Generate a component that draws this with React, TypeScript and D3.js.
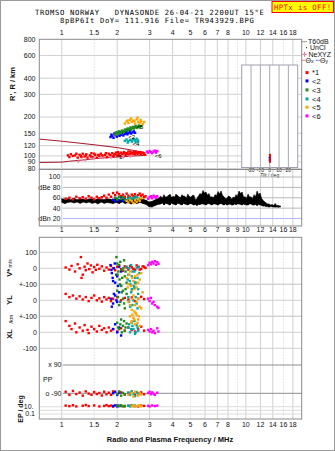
import React from "react";
import * as d3 from "d3";

// ---------- ticks ----------
const FREQ_TICKS = [1, 1.5, 2, 3, 4, 5, 6, 7, 8, 10, 12, 14, 16, 18];
const MID_TICKS = [1, 1.5, 2, 3, 4, 5, 6, 7, 8, 9, 10, 12, 14, 16, 18];
const GRID_FREQS = [1, 1.5, 2, 3, 4, 5, 6, 7, 8, 9, 10, 12, 14, 16, 18];
const FAINT_FREQS = [1.5, 5, 9, 16];
const HEIGHT_TICKS = [800, 600, 400, 300, 200, 150, 120, 100, 90, 80];
const DB_TICKS = [100, 80, 60, 40, 20];
const DB_LABELS = ["100", "dBe 80", "60", "40", "dBn 20"];
const VEL_TICKS = [100, 0, -100];
const VEL_LABELS = ["100", "0", "+-100", "0", "+-100", "0", "-100"];
const TILT_TICKS = [-20, -10, 0, 10, 20];
const LEGEND_MODES = ["*1", "<2", "<3", "<4", "<5", "<6"];

// ---------- echoes: [freq MHz, height km] ----------
const echo1 = [[1.08,101],[1.1,98],[1.12,103],[1.15,100],[1.18,101],[1.2,104],[1.22,97],[1.25,102],[1.27,100],[1.28,98],[1.3,104],[1.33,99],[1.35,101],[1.36,103],[1.38,97],[1.42,101],[1.44,99],[1.45,105],[1.48,98],[1.5,104],[1.52,102],[1.55,97],[1.58,102],[1.6,100],[1.63,104],[1.66,101],[1.68,99],[1.72,102],[1.74,105],[1.76,98],[1.8,104],[1.82,102],[1.84,101],[1.88,105],[1.9,99],[1.92,101],[1.94,103],[1.97,106],[2.0,101],[2.02,107],[2.04,104],[2.07,100],[2.1,106],[2.12,104],[2.14,103],[2.18,107],[2.2,105],[2.22,102],[2.26,105],[2.28,103],[2.3,108],[2.34,103],[2.36,108],[2.38,106],[2.42,104],[2.44,105],[2.46,107],[2.5,103],[2.52,108],[2.54,106],[2.58,104],[2.6,105],[2.62,107],[2.66,105],[2.68,107],[2.7,103],[2.75,106],[2.78,105],[2.8,104],[2.84,102]];
const echo2 = [[1.84,140],[1.86,146],[1.88,143],[1.91,138],[1.93,149],[1.95,145],[1.99,141],[2.0,151],[2.03,147],[2.06,143],[2.08,153],[2.1,146],[2.13,149],[2.15,155],[2.16,144],[2.2,148],[2.23,151],[2.25,156],[2.27,147],[2.3,150],[2.34,153],[2.35,158],[2.38,149],[2.42,152],[2.46,155],[2.5,151]];
const echo3 = [[1.95,146],[1.97,152],[1.98,150],[2.02,148],[2.04,155],[2.06,152],[2.1,150],[2.12,157],[2.14,155],[2.18,153],[2.2,160],[2.22,157],[2.26,160],[2.28,163],[2.3,158],[2.34,162],[2.36,166],[2.38,160],[2.42,165],[2.44,168],[2.46,163],[2.5,167],[2.52,171],[2.55,165],[2.6,168],[2.62,172],[2.65,166],[2.7,170]];
const echo4 = [[2.2,131],[2.25,134],[2.28,127],[2.3,130],[2.35,133],[2.4,129],[2.42,132],[2.45,135],[2.5,132],[2.52,128],[2.55,136],[2.58,133],[2.6,130]];
const echo5 = [[2.2,178],[2.25,185],[2.28,188],[2.3,180],[2.35,190],[2.38,195],[2.4,183],[2.45,188],[2.48,186],[2.5,178],[2.55,192],[2.58,198],[2.6,184],[2.65,180],[2.68,190],[2.7,186],[2.75,176],[2.8,183]];
const echo6 = [[2.9,108],[2.95,106],[3.0,109],[3.05,107],[3.1,105],[3.15,108],[3.2,110],[3.25,106],[3.3,109]];
const neXYZ = [[1.23,91],[1.34,93],[1.49,96],[1.68,97],[1.85,97],[2.16,98],[2.35,99]];
const modelUpper = [[0.755,135],[1.0,130],[1.5,122],[2.0,116],[2.4,111],[2.8,106]];
const modelLower = [[0.755,89],[1.0,89.5],[1.1,91],[1.3,93],[1.6,96],[2.0,98],[2.5,100],[2.8,101]];
const modeLabels = [["*1",1.99,98],["<2",2.3,139],["<4",2.42,124],["<5",2.55,168],["<6",3.2,100]];

// tilt inset: [tilt deg, height km]
const tiltRed = [[0.3,90],[0.3,92],[0.3,94],[0.3,96],[0.3,98],[0.3,100],[0.3,102]];
const tiltBlue = [[-0.6,93],[-0.6,97]];

// ---------- amplitudes: [freq, dB] ----------
const amp1 = [[1.05,58],[1.1,60],[1.15,57],[1.2,62],[1.25,59],[1.3,61],[1.35,58],[1.4,63],[1.45,60],[1.5,57],[1.55,62],[1.6,59],[1.65,61],[1.7,64],[1.75,60],[1.8,66],[1.85,62],[1.9,69],[1.95,65],[2.0,70],[2.05,67],[2.1,63],[2.15,66],[2.2,62],[2.25,68],[2.3,64],[2.35,61],[2.4,66],[2.45,63],[2.5,67],[2.55,62],[2.6,65],[2.65,68],[2.7,64],[2.75,66],[2.8,61],[2.85,63]];
const amp2 = [[1.9,56],[1.95,53],[2.0,58],[2.05,55],[2.1,60],[2.15,54],[2.2,57],[2.3,59],[2.35,55]];
const amp3 = [[1.95,60],[2.0,57],[2.05,62],[2.1,58],[2.15,61],[2.2,56],[2.3,60],[2.4,58],[2.5,62],[2.6,57]];
const amp4 = [[2.3,57],[2.35,60],[2.4,55],[2.45,59],[2.5,56],[2.55,61],[2.6,58]];
const amp5 = [[2.25,54],[2.3,51],[2.35,56],[2.4,53],[2.45,50],[2.5,55],[2.55,52],[2.6,57],[2.65,54],[2.7,59]];
const amp6 = [[2.95,58],[3.0,61],[3.05,63],[3.1,59],[3.15,64],[3.2,62],[3.25,60],[3.3,63]];
// noise T60dB trace: [freq, low dB, high dB]
const noise = [[1.0,51,58],[1.04,49,57],[1.08,51,58],[1.12,52,56],[1.17,50,59],[1.21,52,56],[1.26,49,58],[1.31,52,57],[1.36,50,56],[1.41,52,58],[1.46,49,57],[1.52,51,56],[1.57,48,58],[1.64,52,57],[1.7,49,56],[1.76,51,58],[1.83,50,57],[1.9,49,56],[1.97,51,58],[2.05,49,56],[2.13,52,58],[2.21,49,56],[2.29,51,57],[2.38,48,56],[2.47,51,58],[2.56,49,56],[2.66,51,58],[2.76,49,57],[2.87,47,55],[2.98,43,52],[3.09,42,53],[3.21,45,56],[3.33,47,58],[3.45,48,63],[3.52,50,59],[3.59,46,66],[3.66,49,61],[3.72,49,62],[3.8,47,64],[3.87,46,67],[3.95,50,60],[4.02,48,63],[4.1,47,61],[4.17,46,67],[4.25,49,64],[4.33,49,62],[4.41,47,60],[4.5,46,66],[4.58,49,63],[4.66,48,63],[4.75,47,59],[4.84,46,67],[4.93,48,62],[5.03,49,61],[5.12,47,64],[5.22,46,65],[5.32,47,56],[5.42,45,58],[5.52,47,63],[5.63,47,68],[5.74,48,66],[5.85,48,74],[5.96,47,69],[6.07,46,71],[6.18,48,65],[6.3,49,68],[6.42,47,61],[6.54,46,62],[6.67,48,60],[6.8,48,66],[6.93,47,64],[7.06,46,72],[7.2,48,67],[7.33,49,73],[7.47,47,64],[7.61,46,62],[7.75,48,58],[7.9,46,59],[8.05,47,63],[8.2,48,62],[8.36,46,57],[8.52,46,61],[8.68,48,60],[8.84,47,66],[9.0,48,63],[9.18,48,73],[9.36,47,68],[9.54,46,71],[9.72,48,61],[9.9,47,62],[10.09,46,59],[10.28,46,67],[10.47,48,61],[10.67,48,62],[10.87,46,58],[11.08,46,66],[11.29,47,62],[11.51,45,73],[11.73,47,66],[11.95,46,69],[12.18,45,58],[12.41,44,55],[12.64,44,52],[12.88,43,50],[13.13,43,48],[13.38,42,48],[13.63,43,46],[13.89,43,47],[14.15,42,45],[14.42,42,49],[14.69,42,45],[14.97,42,45],[15.4,42,44]];

// ---------- velocities V* (m/s) ----------
const vs1 = [[1.05,5],[1.1,-8],[1.13,15],[1.18,-20],[1.22,25],[1.25,0],[1.27,70],[1.28,-60],[1.3,-40],[1.33,10],[1.35,-12],[1.38,30],[1.41,-5],[1.44,18],[1.47,-25],[1.5,8],[1.53,-10],[1.56,22],[1.6,-3],[1.65,12],[1.7,-15],[1.75,5],[1.8,-8],[1.85,15],[1.9,0],[1.95,-12],[2.0,10],[2.05,20],[2.1,-5],[2.15,-15],[2.2,12],[2.25,5],[2.3,-8],[2.35,15],[2.4,6],[2.45,-3],[2.5,-10],[2.55,18],[2.6,8],[2.65,-8],[2.7,-4],[2.75,12],[2.8,10],[2.85,2]];
const vs2 = [[1.84,20],[1.86,-10],[1.87,-30],[1.89,-60],[1.9,-80],[1.92,0],[1.94,30],[1.95,-90],[1.98,-40],[2.0,-50],[2.02,-110],[2.05,10],[2.1,-20]];
const vs3 = [[1.98,70],[2.0,30],[2.01,-40],[2.03,-20],[2.04,20],[2.06,-70],[2.07,-100],[2.08,40],[2.1,-110],[2.12,-10],[2.13,-60],[2.15,-140],[2.16,0],[2.18,50],[2.2,-50],[2.22,-20],[2.25,-90]];
const vs4 = [[2.25,10],[2.28,-70],[2.3,-40],[2.32,0],[2.34,-80],[2.36,-100],[2.38,20],[2.4,-50],[2.42,-20],[2.46,-110],[2.48,-20],[2.5,-60],[2.52,-90],[2.55,0],[2.58,-60],[2.6,-130],[2.62,10],[2.64,-30]];
const vs5 = [[2.25,-60],[2.28,-120],[2.3,-100],[2.33,-40],[2.35,-20],[2.38,-110],[2.4,-140],[2.42,-60],[2.45,-80],[2.48,-130],[2.5,-50],[2.52,-100],[2.55,-120],[2.58,-40],[2.6,-90],[2.65,-70],[2.7,-30],[2.75,-150]];
const vs6 = [[2.95,20],[3.0,35],[3.05,25],[3.1,40],[3.15,30],[3.2,45],[3.25,22],[3.3,38],[3.35,28]];
// YL (km)
const yl1 = [[1.05,40],[1.1,20],[1.15,30],[1.2,10],[1.25,25],[1.3,5],[1.35,20],[1.4,-5],[1.45,15],[1.5,30],[1.55,0],[1.6,12],[1.65,-8],[1.7,20],[1.75,5],[1.8,15],[1.85,-5],[1.9,10],[2.0,20],[2.1,0],[2.2,15],[2.3,5],[2.4,18],[2.5,-5],[2.6,10],[2.7,22],[2.8,8]];
const yl2 = [[1.85,10],[1.87,-40],[1.9,-20],[1.92,40],[1.95,30],[1.98,0],[2.0,-10],[2.05,50]];
const yl3 = [[2.0,60],[2.02,20],[2.05,-30],[2.08,-10],[2.1,90],[2.12,50],[2.15,10],[2.18,-20],[2.2,-50],[2.22,70],[2.25,40]];
const yl4 = [[2.3,20],[2.32,-10],[2.35,-40],[2.38,50],[2.4,70],[2.42,-30],[2.45,0],[2.48,80],[2.5,110],[2.52,20],[2.55,-20],[2.58,-50],[2.6,40]];
const yl5 = [[2.3,-10],[2.35,-30],[2.4,-60],[2.42,10],[2.45,30],[2.48,-70],[2.5,-30],[2.55,-10],[2.6,10],[2.65,-40],[2.7,-50]];
const yl6 = [[2.95,10],[3.0,-5],[3.05,15],[3.1,-20],[3.15,-10],[3.2,-30],[3.3,-40],[3.35,-48]];
// XL (km)
const xl1 = [[1.05,70],[1.1,40],[1.13,20],[1.18,55],[1.2,0],[1.25,30],[1.3,10],[1.33,45],[1.38,15],[1.4,-5],[1.45,35],[1.5,20],[1.55,5],[1.6,40],[1.65,15],[1.7,25],[1.75,0],[1.8,30],[1.85,10],[1.9,20],[2.0,5],[2.1,25],[2.2,10],[2.3,30],[2.4,15],[2.5,5],[2.6,20],[2.7,35],[2.8,10]];
const xl2 = [[1.9,20],[1.95,50],[2.0,0],[2.05,30],[2.1,-20]];
const xl3 = [[2.0,60],[2.02,30],[2.05,20],[2.08,50],[2.1,80],[2.12,0],[2.15,40],[2.18,70],[2.2,10],[2.22,30],[2.25,55]];
const xl4 = [[2.3,30],[2.32,50],[2.35,0],[2.38,20],[2.4,60],[2.42,40],[2.45,20],[2.48,70],[2.5,-10],[2.52,0],[2.55,45],[2.58,30],[2.6,10]];
const xl5 = [[2.35,100],[2.38,60],[2.4,70],[2.42,110],[2.45,90],[2.48,80],[2.5,50],[2.52,120],[2.55,110],[2.58,60],[2.6,80],[2.62,100],[2.65,40]];
const xl6 = [[2.95,15],[3.0,5],[3.05,20],[3.1,0],[3.15,10],[3.2,-5],[3.3,25],[3.35,5]];
// PP (deg)
const pp1 = [[1.05,-80],[1.1,-100],[1.15,-75],[1.2,-95],[1.25,-85],[1.3,-105],[1.35,-78],[1.4,-92],[1.45,-100],[1.5,-82],[1.55,-95],[1.6,-88],[1.65,-104],[1.7,-80],[1.75,-96],[1.8,-86],[1.85,-100],[1.9,-78],[2.0,-94],[2.1,-84],[2.2,-98],[2.3,-88],[2.4,-80],[2.5,-102],[2.6,-90],[2.7,-84],[2.8,-96]];
const pp2 = [[1.9,-90],[1.95,-80],[2.0,-100],[2.05,-86]];
const pp3 = [[2.0,-95],[2.05,-78],[2.1,-105],[2.15,-88],[2.2,-96]];
const pp4 = [[2.3,-85],[2.35,-100],[2.4,-78],[2.45,-92],[2.5,-108],[2.55,-82],[2.6,-95]];
const pp5 = [[2.3,-100],[2.4,-88],[2.45,-110],[2.5,-80],[2.6,-104],[2.65,-86],[2.7,-98]];
const pp6 = [[2.95,-88],[3.0,-80],[3.05,-96],[3.1,-84],[3.15,-92],[3.2,-100],[3.3,-86]];
// EP (deg)
const ep1 = [[1.05,20],[1.1,14],[1.15,25],[1.2,12],[1.3,18],[1.35,30],[1.4,15],[1.5,22],[1.6,12],[1.7,16],[1.75,28],[1.8,14],[1.85,20],[1.9,11],[2.0,24],[2.1,16],[2.2,13],[2.3,19],[2.4,26],[2.5,15],[2.6,12],[2.7,20],[2.8,17]];
const ep2 = [[1.9,15],[1.95,22],[2.0,12],[2.05,18]];
const ep3 = [[2.0,20],[2.05,14],[2.1,26],[2.15,12],[2.2,17]];
const ep4 = [[2.3,18],[2.35,12],[2.4,24],[2.45,15],[2.5,20]];
const ep5 = [[2.4,14],[2.45,22],[2.5,12],[2.6,19],[2.65,25],[2.7,13]];
const ep6 = [[2.95,18],[3.0,12],[3.1,22],[3.2,15],[3.3,19]];

const COLORS = ["#ff0000", "#0000ff", "#1e8c1e", "#00a8a8", "#ffa500", "#ff00ff"];

const L = 39.3, R = 301.7;
const TOP0 = 39.3, TOP1 = 169.5, AMP1 = 226, LOW0 = 237.3, LOW1 = 419;

export default function App() {
  const x = d3.scaleLog().domain([0.755, 20.1]).range([L, R]);
  const yH = d3.scaleLog().domain([78.5, 800]).range([TOP1, TOP0]);
  const yA = d3.scaleLinear().domain([20, 100]).range([218.5, 177]);
  const yV = d3.scaleLinear().domain([-100, 100]).range([284.3, 252.3]);
  const yY = d3.scaleLinear().domain([-100, 100]).range([316.3, 284.3]);
  const yX = d3.scaleLinear().domain([-100, 100]).range([348.3, 316.3]);
  const yP = d3.scaleLinear().domain([-90, 90]).range([393.3, 365]);
  const yE = d3.scaleLog().domain([0.1, 10]).range([414, 406.7]);
  const xT = d3.scaleLinear().domain([-30, 30]).range([241.7, 297.7]);

  const tick = { fontFamily: "Liberation Sans, Arial, sans-serif", fontSize: 7, fill: "#111" };
  const sq = (cx: number, cy: number, c: string, k: string, s = 2.4) => (
    <rect key={k} x={cx - s / 2} y={cy - s / 2} width={s} height={s} fill={c} />
  );
  const pts = (groups: number[][][], ys: (v: number) => number, pre: string, s = 2.4) =>
    groups.map((g, gi) => g.map((d, i) => sq(x(d[0]), ys(d[1]), COLORS[gi], `${pre}${gi}-${i}`, s)));

  const lineH = d3.line<number[]>().x(d => x(d[0])).y(d => yH(d[1]));

  // noise band: filled area between low and high + jagged outline
  const noiseArea = d3.area<number[]>().x(d => x(d[0])).y0(d => yA(d[1])).y1(d => yA(d[2]))(noise) || "";
  const zig: [number, number][] = [];
  noise.forEach((d, i) => {
    zig.push([x(d[0]), yA(i % 2 === 0 ? d[2] : d[1])]);
  });
  const zigPath = d3.line()(zig) || "";

  const vGrid = (y0: number, y1: number, k: string) =>
    GRID_FREQS.map(f => (
      <line key={k + f} x1={x(f)} x2={x(f)} y1={y0} y2={y1}
        stroke={FAINT_FREQS.includes(f) ? "#e4e4e4" : "#d0d0d0"} strokeWidth={1}
        strokeDasharray={FAINT_FREQS.includes(f) ? "2,1" : undefined} />
    ));
  const hLine = (y: number, k: string, c = "#d0d0d0", x1 = L, x2 = R) => (
    <line key={k} x1={x1} x2={x2} y1={y} y2={y} stroke={c} strokeWidth={1} />
  );

  return (
    <svg width={335} height={451} style={{ position: "absolute", left: 0, top: 0, background: "#fff" }}>
      <rect x={0.5} y={0.5} width={334} height={450} fill="#fff" stroke="#9a9a9a" />
      {/* Title */}
      <text x={35} y={14.5} fontFamily="DejaVu Sans Mono, monospace" fontSize={7.2} letterSpacing={0.66} fill="#000" style={{ whiteSpace: "pre" }}>{"TROMSO NORWAY   DYNASONDE 26-04-21 2200UT 15°E"}</text>
      <text x={60} y={22.7} fontFamily="DejaVu Sans Mono, monospace" fontSize={7.2} letterSpacing={0.66} fill="#000">8pBP6It DoY= 111.916 File= TR943929.BPG</text>
      <rect x={272} y={1.5} width={61.5} height={11} fill="#ffff00" stroke="#ff0000" />
      <text x={302.7} y={10.2} textAnchor="middle" fontFamily="DejaVu Sans Mono, monospace" fontSize={7.4} letterSpacing={0.35} fill="#ff0000">HPTx is OFF!</text>

      {/* top x tick labels */}
      {FREQ_TICKS.map(f => <text key={"tt" + f} x={x(f)} y={35.3} textAnchor="middle" {...tick}>{f}</text>)}

      {/* ===== top panel ===== */}
      {vGrid(TOP0, TOP1, "vg1")}
      {HEIGHT_TICKS.filter(h => h < 800).map(h => hLine(yH(h), "hg" + h))}
      {HEIGHT_TICKS.map(h => <text key={"ht" + h} x={35.5} y={yH(h) + 2.4} textAnchor="end" {...tick}>{h}</text>)}
      <text transform={`translate(14.5,84) rotate(-90)`} textAnchor="middle" fontFamily="Liberation Sans, Arial, sans-serif" fontSize={7.5} fontWeight="bold" fill="#111">R', R / km</text>

      <path d={lineH(modelUpper) || ""} fill="none" stroke="#a8182e" strokeWidth={1} />
      <path d={lineH(modelLower) || ""} fill="none" stroke="#a8182e" strokeWidth={1} />
      {pts([echo1, echo2, echo3, echo4, echo5, echo6], yH, "e", 2.4)}
      {neXYZ.map((d, i) => (
        <g key={"nx" + i} stroke="#f07aa0" strokeWidth={1}>
          <line x1={x(d[0]) - 1.6} x2={x(d[0]) + 1.6} y1={yH(d[1])} y2={yH(d[1])} />
          <line x1={x(d[0])} x2={x(d[0])} y1={yH(d[1]) - 1.6} y2={yH(d[1]) + 1.6} />
        </g>
      ))}
      {modeLabels.map((m, i) => (
        <text key={"ml" + i} x={x(m[1] as number)} y={yH(m[2] as number) + 2} fontFamily="Liberation Sans, Arial, sans-serif" fontSize={6} fill="#000">{m[0]}</text>
      ))}

      {/* tilt inset */}
      <rect x={xT(-30)} y={65} width={xT(30) - xT(-30)} height={102.5} fill="#fff" stroke="#a0a0b0" strokeWidth={1} />
      {TILT_TICKS.map(t => <line key={"tg" + t} x1={xT(t)} x2={xT(t)} y1={65} y2={167.5} stroke="#a8a8b8" strokeWidth={1} />)}
      {tiltRed.map((d, i) => sq(xT(d[0]), yH(d[1]), COLORS[0], "tr" + i, 2))}
      {tiltBlue.map((d, i) => sq(xT(d[0]), yH(d[1]), COLORS[1], "tb" + i, 1.2))}
      {TILT_TICKS.map(t => <text key={"tl" + t} x={xT(t)} y={171.5} textAnchor="middle" fontFamily="Liberation Sans, Arial, sans-serif" fontSize={5} fill="#222">{t}</text>)}
      <text x={xT(0)} y={176.6} textAnchor="middle" fontFamily="Liberation Sans, Arial, sans-serif" fontSize={5} fill="#222">Tilt / deg</text>

      {/* legend */}
      <line x1={301.7} x2={307} y1={41.7} y2={41.7} stroke="#999" />
      <text x={308} y={44.2} {...tick}>T60dB</text>
      <rect x={306} y={47.2} width={1} height={1} fill="#000" />
      <text x={310} y={50.2} {...tick}>UnCl</text>
      <line x1={302} x2={307} y1={54.3} y2={54.3} stroke="#f07aa0" />
      <line x1={304.5} x2={304.5} y1={51.8} y2={56.8} stroke="#f07aa0" />
      <text x={308.5} y={56.8} {...tick}>NeXYZ</text>
      <line x1={301.7} x2={305.5} y1={60.3} y2={60.3} stroke="#f07aa0" />
      <text x={305.5} y={62.8} {...tick}>Θ<tspan fontSize={5}>x</tspan></text>
      <line x1={315.5} x2={320} y1={60.3} y2={60.3} stroke="#8080ff" />
      <text x={320} y={62.8} {...tick}>Θ<tspan fontSize={5}>y</tspan></text>
      {LEGEND_MODES.map((m, i) => {
        const ly = [72.7, 81, 90, 99, 107.3, 116][i];
        return (
          <g key={"lg" + i}>
            <rect x={305.5} y={ly - 1.6} width={3} height={3} fill={COLORS[i]} />
            <text x={312} y={ly + 2.5} {...tick} fontSize={7.5}>{m}</text>
          </g>
        );
      })}

      {/* ===== amplitude panel ===== */}
      {vGrid(TOP1, AMP1, "vg2")}
      {DB_TICKS.map(v => hLine(yA(v), "ag" + v, v === 20 ? "#b4b4ff" : "#b8b8b8", x(1) + 1, R))}
      {DB_TICKS.map((v, i) => <text key={"al" + v} x={60.5} y={yA(v) + 2.4} textAnchor="end" {...tick}>{DB_LABELS[i]}</text>)}
      <path d={noiseArea} fill="#000" stroke="#000" strokeWidth={0.6} />
      <path d={zigPath} fill="none" stroke="#000" strokeWidth={1} />
      {pts([amp1, amp2, amp3, amp4, amp5, amp6], yA, "a", 2.4)}
      <rect x={L} y={TOP0} width={R - L} height={TOP1 - TOP0} fill="none" stroke="#8a8a8a" />
      <rect x={L} y={TOP1} width={R - L} height={AMP1 - TOP1} fill="none" stroke="#8a8a8a" />

      {/* middle x tick labels */}
      {MID_TICKS.map(f => <text key={"mt" + f} x={x(f)} y={231.7} textAnchor="middle" {...tick}>{f}</text>)}

      {/* ===== lower panel ===== */}
      {vGrid(LOW0, LOW1, "vg3")}
      {[yV, yY, yX].map((s, si) => VEL_TICKS.map(v => hLine(s(v), `vl${si}${v}`)))}
      {[yV(100), yV(0), yV(-100), yY(0), yY(-100), yX(0), yX(-100)].map((y, i) => (
        <text key={"vt" + i} x={37} y={y + 2.4} textAnchor="end" {...tick}>{VEL_LABELS[i]}</text>
      ))}
      {hLine(yP(90), "pp90", "#8e8e8e", x(1) + 1, R)}
      {hLine(yP(-90), "ppm90", "#8e8e8e", x(1) + 1, R)}
      {[10, 1, 0.1].map(v => hLine(yE(v), "ep" + v, "#dcdcdc"))}
      <text x={61.5} y={yP(90) + 2.4} textAnchor="end" {...tick}>x 90</text>
      <text x={43} y={381.8} {...tick}>PP</text>
      <text x={61.5} y={yP(-90) + 2.4} textAnchor="end" {...tick}>o -90</text>
      <text x={33.5} y={yE(10) + 2.2} textAnchor="end" {...tick}>10.</text>
      <text x={35} y={yE(0.1) + 2.2} textAnchor="end" {...tick}>0.1</text>

      <text transform="translate(11.5,268) rotate(-90)" textAnchor="middle" fontFamily="Liberation Sans, Arial, sans-serif" fontSize={7.5} fontWeight="bold" fill="#111">V*<tspan fontSize={5} fontWeight="normal"> m/s</tspan></text>
      <text transform="translate(11.5,300) rotate(-90)" textAnchor="middle" fontFamily="Liberation Sans, Arial, sans-serif" fontSize={7.5} fontWeight="bold" fill="#111">YL</text>
      <text transform="translate(12.5,319) rotate(-90)" textAnchor="middle" fontFamily="Liberation Sans, Arial, sans-serif" fontSize={5.5} fill="#111">/km</text>
      <text transform="translate(11.5,334) rotate(-90)" textAnchor="middle" fontFamily="Liberation Sans, Arial, sans-serif" fontSize={7.5} fontWeight="bold" fill="#111">XL</text>
      <text transform="translate(22.5,409) rotate(-90)" textAnchor="middle" fontFamily="Liberation Sans, Arial, sans-serif" fontSize={7} fontWeight="bold" fill="#111">EP / deg</text>

      {pts([vs1, vs2, vs3, vs4, vs5, vs6], yV, "v", 2.4)}
      {pts([yl1, yl2, yl3, yl4, yl5, yl6], yY, "y", 2.4)}
      {pts([xl1, xl2, xl3, xl4, xl5, xl6], yX, "x", 2.4)}
      {pts([pp1, pp2, pp3, pp4, pp5, pp6], yP, "p", 2.4)}
      {pts([ep1, ep2, ep3, ep4, ep5, ep6], yE, "q", 2.4)}
      <rect x={L} y={LOW0} width={R - L} height={LOW1 - LOW0} fill="none" stroke="#8a8a8a" />

      {/* bottom x tick labels */}
      {FREQ_TICKS.map(f => <text key={"bt" + f} x={x(f)} y={427.3} textAnchor="middle" {...tick}>{f}</text>)}
      <text x={170} y={441.5} textAnchor="middle" fontFamily="Liberation Sans, Arial, sans-serif" fontSize={7.5} fontWeight="bold" fill="#111">Radio and Plasma Frequency / MHz</text>
    </svg>
  );
}
